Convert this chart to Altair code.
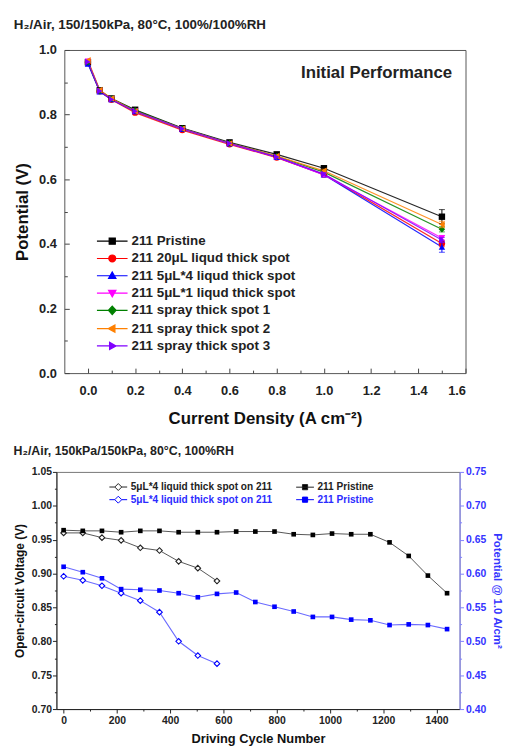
import altair as alt
import pandas as pd

FONT = "Liberation Sans"

# ---------------- top panel: polarization curves ----------------
current_density = [0.0, 0.05, 0.1, 0.2, 0.4, 0.6, 0.8, 1.0, 1.5]
top_series = ["211 Pristine", "211 20μL liqud thick spot", "211 5μL*4 liqud thick spot",
              "211 5μL*1 liqud thick spot", "211 spray thick spot 1", "211 spray thick spot 2",
              "211 spray thick spot 3"]
v_pristine = [0.962, 0.875, 0.850, 0.815, 0.758, 0.714, 0.677, 0.634, 0.484]
v_20ul     = [0.963, 0.872, 0.846, 0.806, 0.752, 0.708, 0.667, 0.615, 0.401]
v_5ul_x4   = [0.957, 0.871, 0.847, 0.810, 0.755, 0.710, 0.668, 0.614, 0.390]
v_5ul_x1   = [0.965, 0.873, 0.848, 0.811, 0.756, 0.710, 0.668, 0.613, 0.418]
v_spray1   = [0.962, 0.873, 0.849, 0.813, 0.757, 0.712, 0.671, 0.622, 0.445]
v_spray2   = [0.968, 0.876, 0.850, 0.810, 0.756, 0.711, 0.672, 0.626, 0.460]
v_spray3   = [0.963, 0.873, 0.847, 0.810, 0.756, 0.711, 0.669, 0.616, 0.412]
err_at_1_0 = [0.008, 0.006, 0.006, 0.005, 0.005, 0.005, 0.005]
err_at_1_5 = [0.022, 0.010, 0.016, 0.008, 0.008, 0.010, 0.008]

top_x_major = [0.0, 0.2, 0.4, 0.6, 0.8, 1.0, 1.2, 1.4, 1.6]
top_x_minor = [0.1, 0.3, 0.5, 0.7, 0.9, 1.1, 1.3, 1.5]
top_y_major = [0.0, 0.2, 0.4, 0.6, 0.8, 1.0]
top_y_minor = [0.1, 0.3, 0.5, 0.7, 0.9]
top_note = ["Initial Performance"]

# styles
top_colors = ["#000000", "#ff0000", "#0000ff", "#ff00ff", "#008000", "#ff8000", "#8000ff"]
top_shapes = ["square", "circle", "triangle-up", "triangle-down", "diamond",
              "triangle-left", "triangle-right"]
top_legend_paths = [
    "M-2,0L2,0M-0.4,-0.4L0.4,-0.4L0.4,0.4L-0.4,0.4Z",
    "M-2,0L2,0M-0.45,0A0.45,0.45,0,1,0,0.45,0A0.45,0.45,0,1,0,-0.45,0Z",
    "M-2,0L2,0M0,-0.5L0.48,0.35L-0.48,0.35Z",
    "M-2,0L2,0M0,0.5L0.48,-0.35L-0.48,-0.35Z",
    "M-2,0L2,0M0,-0.55L0.5,0L0,0.55L-0.5,0Z",
    "M-2,0L2,0M-0.5,0L0.35,-0.48L0.35,0.48Z",
    "M-2,0L2,0M0.5,0L-0.35,-0.48L-0.35,0.48Z",
]

# ---------------- bottom panel: durability ----------------
cycles_pristine = [0, 72, 144, 216, 288, 360, 432, 504, 576, 648, 720, 792, 864, 936,
                   1008, 1080, 1152, 1224, 1296, 1368, 1440]
ocv_pristine = [0.964, 0.963, 0.963, 0.961, 0.963, 0.963, 0.961, 0.961, 0.961, 0.962, 0.962,
                0.962, 0.958, 0.957, 0.959, 0.958, 0.958, 0.946, 0.926, 0.897, 0.871]
pot_pristine = [0.610, 0.602, 0.593, 0.577, 0.576, 0.575, 0.571, 0.565, 0.570, 0.572, 0.558,
                0.551, 0.544, 0.536, 0.536, 0.532, 0.531, 0.524, 0.525, 0.524, 0.518]
cycles_spot = [0, 72, 144, 216, 288, 360, 432, 504, 576]
ocv_spot = [0.960, 0.960, 0.953, 0.949, 0.938, 0.934, 0.918, 0.908, 0.889]
pot_spot = [0.596, 0.590, 0.582, 0.571, 0.560, 0.543, 0.500, 0.479, 0.467]

bottom_legend_keys = ["1|5μL*4 liquid thick spot on 211", "2|211 Pristine",
                      "3|5μL*4 liquid thick spot on 211", "4|211 Pristine"]
bottom_x_ticks = [0, 100, 200, 300, 400, 500, 600, 700, 800, 900, 1000, 1100, 1200, 1300, 1400]
left_y_major = [0.70, 0.75, 0.80, 0.85, 0.90, 0.95, 1.00, 1.05]
left_y_minor = [0.725, 0.775, 0.825, 0.875, 0.925, 0.975, 1.025]
right_y_major = [0.40, 0.45, 0.50, 0.55, 0.60, 0.65, 0.70, 0.75]
right_y_minor = [0.425, 0.475, 0.525, 0.575, 0.625, 0.675, 0.725]

BLUE = "#0000ff"
BLUE_LINE = "#6a6aff"
BLUE_AXIS = "#3434ff"
FRAME = "#555555"
bottom_fill = ["#ffffff", "#000000", "#ffffff", BLUE]
bottom_stroke = ["#222222", "#222222", BLUE, BLUE]
bottom_legend_paths = [
    "M-2,0L-0.78,0M0.78,0L2,0M0,-0.78L0.78,0L0,0.78L-0.78,0Z",
    "M-2,0L2,0M-0.58,-0.58L0.58,-0.58L0.58,0.58L-0.58,0.58Z",
    "M-2,0L-0.78,0M0.78,0L2,0M0,-0.78L0.78,0L0,0.78L-0.78,0Z",
    "M-2,0L2,0M-0.58,-0.58L0.58,-0.58L0.58,0.58L-0.58,0.58Z",
]

# ================= build top chart =================
all_v = [v_pristine, v_20ul, v_5ul_x4, v_5ul_x1, v_spray1, v_spray2, v_spray3]
rows = []
for name, vals in zip(top_series, all_v):
    for j, v in zip(current_density, vals):
        rows.append({"j": j, "v": v, "series": name})
top_df = pd.DataFrame(rows)

err_rows = []
for name, vals, e10, e15 in zip(top_series, all_v, err_at_1_0, err_at_1_5):
    err_rows.append({"j": 1.0, "lo": vals[7] - e10, "hi": vals[7] + e10, "series": name})
    err_rows.append({"j": 1.5, "lo": vals[8] - e15, "hi": vals[8] + e15, "series": name})
err_df = pd.DataFrame(err_rows)
cap_df = pd.concat([
    err_df[["j", "series"]].assign(v=err_df["lo"]),
    err_df[["j", "series"]].assign(v=err_df["hi"]),
])

# the top frame starts 8 px inside its group so that it sits 8 px right of the lower frame
TOP_SHIFT = 8
TOP_W = 406
xs = alt.Scale(domain=[-0.1, 1.6], nice=False, zero=False, range=[TOP_SHIFT, TOP_SHIFT + TOP_W])
ys = alt.Scale(domain=[0.0, 1.0], nice=False, zero=False)
fill_scale = alt.Scale(domain=top_series, range=top_colors)
leg_scale = alt.Scale(domain=top_series, range=top_legend_paths)

lab = dict(labelFont=FONT, labelFontWeight="bold", labelColor="#222222",
           titleFont=FONT, titleFontWeight="bold", titleColor="#111111", grid=False,
           labelOverlap=False)

x_major = alt.Axis(orient="bottom", values=top_x_major, format=".1f", offset=-5, tickSize=5,
                   domain=False, labelPadding=12, labelFontSize=13, tickColor="#444",
                   title="Current Density (A cm⁻²)", titleFontSize=17, titlePadding=13, **lab)
y_major = alt.Axis(orient="left", values=top_y_major, format=".1f", offset=-(TOP_SHIFT + 5),
                   tickSize=5, domain=False, labelPadding=8, labelFontSize=13, tickColor="#444",
                   title="Potential (V)", titleFontSize=17, titlePadding=7, **lab)
x_minor = alt.Axis(orient="bottom", values=top_x_minor, offset=-3, tickSize=3, domain=False,
                   labels=False, title=None, grid=False, tickColor="#444")
y_minor = alt.Axis(orient="left", values=top_y_minor, offset=-(TOP_SHIFT + 3), tickSize=3,
                   domain=False, labels=False, title=None, grid=False, tickColor="#444")
frame = dict(domain=True, ticks=False, labels=False, title=None, grid=False,
             domainColor=FRAME, domainWidth=1)
x_frame_b = alt.Axis(orient="bottom", **frame)
x_frame_t = alt.Axis(orient="top", **frame)
y_frame_l = alt.Axis(orient="left", offset=-TOP_SHIFT, **frame)
y_frame_r = alt.Axis(orient="right", **frame)

x_axes = [x_major, x_frame_b, x_frame_t]
y_axes = [y_major, y_frame_l, y_frame_r]

top_layers = []
for i, (name, col) in enumerate(zip(top_series, top_colors)):
    base = alt.Chart(top_df).transform_filter(alt.datum.series == name)
    top_layers.append(base.mark_line(strokeWidth=1.2, opacity=0.85, color=col).encode(
        x=alt.X("j:Q", scale=xs, axis=x_axes[i] if i < 3 else None),
        y=alt.Y("v:Q", scale=ys, axis=y_axes[i] if i < 3 else None),
    ))
for name, col, shp in zip(top_series, top_colors, top_shapes):
    top_layers.append(alt.Chart(err_df).transform_filter(alt.datum.series == name).mark_rule(
        strokeWidth=1, color=col).encode(
        x=alt.X("j:Q", scale=xs, axis=None),
        y=alt.Y("lo:Q", scale=ys, axis=None), y2="hi:Q"))
    top_layers.append(alt.Chart(cap_df).transform_filter(alt.datum.series == name).mark_tick(
        orient="horizontal", size=6, thickness=1, color=col).encode(
        x=alt.X("j:Q", scale=xs, axis=None),
        y=alt.Y("v:Q", scale=ys, axis=None)))
    top_layers.append(alt.Chart(top_df).transform_filter(alt.datum.series == name).mark_point(
        filled=True, size=42, opacity=1, shape=shp, color=col).encode(
        x=alt.X("j:Q", scale=xs, axis=None),
        y=alt.Y("v:Q", scale=ys, axis=None)))

top_legend = alt.Legend(
    orient="none", legendX=40 + TOP_SHIFT, legendY=185, title=None, padding=0,
    symbolSize=240, symbolStrokeWidth=1.2, symbolOpacity=1,
    labelFont=FONT, labelFontSize=13.5, labelFontWeight="bold", labelColor="#222222",
    labelOffset=11, rowPadding=2.5, labelLimit=400,
)
legend_layer = alt.Chart(top_df).transform_filter("datum.j > 5").mark_point(
    filled=True, opacity=1).encode(
    x=alt.X("j:Q", scale=xs, axis=x_minor),
    y=alt.Y("v:Q", scale=ys, axis=y_minor),
    shape=alt.Shape("series:N", scale=leg_scale, legend=top_legend),
    fill=alt.Fill("series:N", scale=fill_scale, legend=top_legend),
    stroke=alt.Stroke("series:N", scale=fill_scale, legend=top_legend),
)
note = alt.Chart(pd.DataFrame({"t": top_note})).mark_text(
    font=FONT, fontSize=17, fontWeight="bold", color="#222222", align="center",
    baseline="middle").encode(text="t:N", x=alt.value(316 + TOP_SHIFT), y=alt.value(23))

top = alt.layer(*top_layers, legend_layer, note).resolve_axis(
    x="independent", y="independent").properties(
    width=TOP_SHIFT + TOP_W, height=327,
    view=alt.ViewBackground(strokeOpacity=0),
    title=alt.TitleParams("H₂/Air, 150/150kPa, 80°C, 100%/100%RH", anchor="start",
                          font=FONT, fontSize=13.5, fontWeight="bold", color="#222222",
                          offset=13),
)

# ================= build bottom chart =================
ocv_df = pd.DataFrame({
    "cycle": cycles_spot + cycles_pristine,
    "val": ocv_spot + ocv_pristine,
    "series": ["spot"] * len(cycles_spot) + ["pristine"] * len(cycles_pristine),
})
pot_df = pd.DataFrame({
    "cycle": cycles_spot + cycles_pristine,
    "val": pot_spot + pot_pristine,
    "series": ["spot"] * len(cycles_spot) + ["pristine"] * len(cycles_pristine),
})
leg_df = pd.DataFrame({"key": bottom_legend_keys, "cycle": [0] * 4, "val": [0.9] * 4})

bx = alt.Scale(domain=[-27, 1487], nice=False, zero=False)
yl = alt.Scale(domain=[0.70, 1.05], nice=False, zero=False)
yr = alt.Scale(domain=[0.40, 0.75], nice=False, zero=False)

bx_axis = alt.Axis(values=bottom_x_ticks,
                   labelExpr="datum.value % 200 != 0 ? '' : format(datum.value, 'd')",
                   tickSize={"condition": {"test": "datum.value % 200 != 0", "value": 2}, "value": 4},
                   labelFontSize=10.5, labelPadding=3, domainColor="#222", tickColor="#222",
                   title="Driving Cycle Number", titleFontSize=13, titlePadding=6, **lab)
yl_axis = alt.Axis(orient="left", values=left_y_major, format=".2f", tickSize=4,
                   labelFontSize=10.5, labelPadding=1, domainColor="#222", tickColor="#222",
                   title="Open-circuit Voltage (V)", titleFontSize=12, titlePadding=5, **lab)
yl_minor = alt.Axis(orient="left", values=left_y_minor, tickSize=2, labels=False, domain=False,
                    title=None, grid=False, tickColor="#222")
yr_lab = dict(lab)
yr_lab.update(labelColor=BLUE_AXIS, titleColor=BLUE_AXIS)
yr_axis = alt.Axis(values=right_y_major, orient="right", format=".2f", tickSize=4,
                   labelFontSize=10.5, labelPadding=2, domainColor="#8080ff", tickColor="#8080ff",
                   title="Potential @ 1.0 A/cm²", titleFontSize=11.5, titlePadding=6, **yr_lab)
yr_minor = alt.Axis(values=right_y_minor, orient="right", tickSize=2, labels=False,
                    domain=False, title=None, grid=False, tickColor="#8080ff")

bx_enc = alt.X("cycle:Q", scale=bx, axis=bx_axis)

line_l = alt.Chart(ocv_df).mark_line(color="#555555", strokeWidth=1).encode(
    x=bx_enc, y=alt.Y("val:Q", scale=yl, axis=yl_axis), detail="series:N")
spot_l = alt.Chart(ocv_df).transform_filter("datum.series == 'spot'").mark_point(
    shape="diamond", filled=True, fill="#ffffff", stroke="#222222", strokeWidth=1.1,
    size=32, opacity=1).encode(x=bx_enc, y=alt.Y("val:Q", scale=yl, axis=None))
pris_l = alt.Chart(ocv_df).transform_filter("datum.series == 'pristine'").mark_point(
    shape="square", filled=True, color="#000000", size=22, opacity=1).encode(
    x=bx_enc, y=alt.Y("val:Q", scale=yl, axis=None))

bottom_legend = alt.Legend(
    orient="none", legendX=57.5, legendY=10, title=None, padding=0, columns=2,
    direction="horizontal",
    columnPadding=22, rowPadding=1, symbolSize=81, symbolStrokeWidth=1, symbolOpacity=1,
    labelFont=FONT, labelFontSize=10.2, labelFontWeight="bold", labelOffset=7.5, labelLimit=400,
    labelExpr="slice(datum.label, 2)",
    labelColor=alt.ExprRef("datum.value >= '3' ? '#2b2bff' : '#222222'"),
)
leg_l = alt.Chart(leg_df).transform_filter("datum.val > 5").mark_point(
    filled=True, opacity=1).encode(
    x=bx_enc, y=alt.Y("val:Q", scale=yl, axis=yl_minor),
    shape=alt.Shape("key:N", scale=alt.Scale(domain=bottom_legend_keys, range=bottom_legend_paths),
                    legend=bottom_legend),
    fill=alt.Fill("key:N", scale=alt.Scale(domain=bottom_legend_keys, range=bottom_fill),
                  legend=bottom_legend),
    stroke=alt.Stroke("key:N", scale=alt.Scale(domain=bottom_legend_keys, range=bottom_stroke),
                      legend=bottom_legend),
)
left_group = alt.layer(line_l, spot_l, pris_l, leg_l).resolve_axis(y="independent")

line_r = alt.Chart(pot_df).mark_line(color=BLUE_LINE, strokeWidth=1.1).encode(
    x=bx_enc, y=alt.Y("val:Q", scale=yr, axis=yr_axis), detail="series:N")
spot_r = alt.Chart(pot_df).transform_filter("datum.series == 'spot'").mark_point(
    shape="diamond", filled=True, fill="#ffffff", stroke=BLUE, strokeWidth=1.1,
    size=32, opacity=1).encode(x=bx_enc, y=alt.Y("val:Q", scale=yr, axis=None))
pris_r = alt.Chart(pot_df).transform_filter("datum.series == 'pristine'").mark_point(
    shape="square", filled=True, color=BLUE, size=22, opacity=1).encode(
    x=bx_enc, y=alt.Y("val:Q", scale=yr, axis=None))
minor_r = alt.Chart(pot_df).transform_filter("datum.val > 5").mark_point().encode(
    x=bx_enc, y=alt.Y("val:Q", scale=yr, axis=yr_minor))
right_group = alt.layer(line_r, spot_r, pris_r, minor_r).resolve_axis(y="independent")

bottom = alt.layer(left_group, right_group).resolve_scale(y="independent").properties(
    width=408, height=240,
    title=alt.TitleParams("H₂/Air, 150kPa/150kPa, 80°C, 100%RH", anchor="start",
                          font=FONT, fontSize=12.5, fontWeight="bold", color="#222222",
                          offset=10),
)

chart = alt.vconcat(top, bottom, spacing=18).resolve_scale(
    shape="independent", fill="independent", stroke="independent", color="independent",
    x="independent", y="independent").resolve_legend(
    shape="independent", fill="independent", stroke="independent", color="independent").configure(
    font=FONT, padding=5, background="white").configure_view(stroke="#777777", strokeWidth=1)

chart.save("out.html", embed_options={"renderer": "svg", "actions": False})
